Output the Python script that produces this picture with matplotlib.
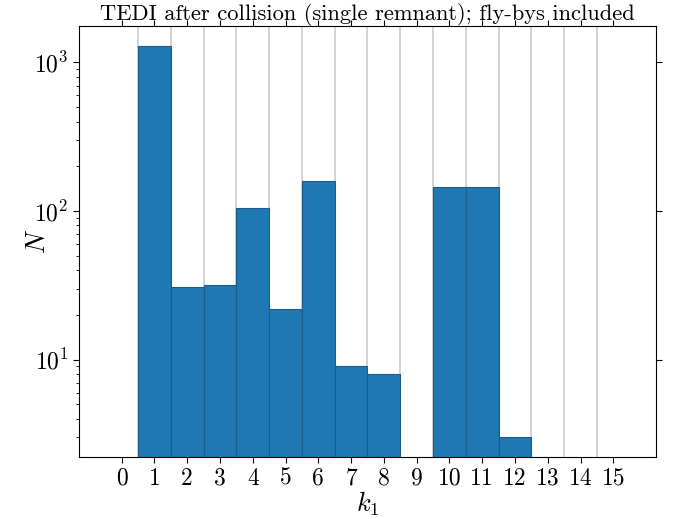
import matplotlib

matplotlib.use("Agg")
import matplotlib.pyplot as plt
import numpy as np

matplotlib.rcParams.update({
    "font.family": "serif",
    "font.serif": ["cmr10", "DejaVu Serif"],
    "mathtext.fontset": "cm",
    "axes.formatter.use_mathtext": True,
    "axes.unicode_minus": False,
    "font.size": 17,
})

# histogram of k1 after collision
k1 = [0, 1, 2, 3, 4, 5, 6, 7, 8, 9, 10, 11, 12, 13, 14, 15]
counts = [0, 1300, 31, 32, 105, 22, 160, 9, 8, 0, 146, 146, 3, 0, 0, 0]
TITLE = "TEDI after collision (single remnant); fly-bys included"

C_BAR = "#1f77b4"
C_EDGE = "#1a5d8c"
C_GRID = "#cccccc"


def main() -> None:
    fig = plt.figure(figsize=(6.73, 5.19), dpi=100)
    ax = fig.add_axes([0.1174, 0.1195, 0.8573, 0.8305])
    ax.set_yscale("log")

    k = np.array(k1)
    n = np.array(counts)
    pos = n > 0

    # separators between bins
    for edge in k[:-1] + 0.5:
        ax.axvline(edge, color=C_GRID, lw=1.2, zorder=0)

    ax.bar(k[pos], n[pos], width=1.0, color=C_BAR, edgecolor=C_EDGE,
           linewidth=0.8, zorder=2)

    ax.set_xlim(-1.3, 16.3)
    ax.set_ylim(2.21, 1762)
    ax.set_xticks(k)
    ax.set_xticklabels([str(v) for v in k1])
    ax.tick_params(which="major", top=True, right=True, direction="out",
                   length=4, width=0.8)
    ax.tick_params(which="minor", left=True, right=False, top=False,
                   bottom=False, direction="out", length=2.5, width=0.6)

    ax.set_title(TITLE, fontsize=16.2, pad=4.5)
    ax.set_xlabel("$k_1$", fontsize=19, labelpad=0)
    ax.set_ylabel("$N$", fontsize=19)
    ax.yaxis.set_label_coords(-0.05, 0.5)

    fig.savefig("out.png", dpi=100)
    plt.close(fig)


if __name__ == "__main__":
    main()
